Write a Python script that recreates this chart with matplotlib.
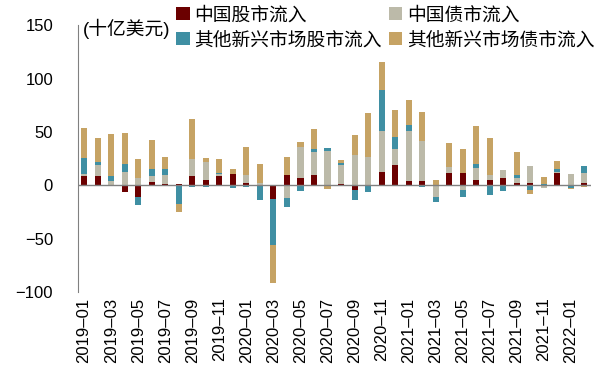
"""EM capital inflows: China vs other EM, equity and bond, monthly stacked bars."""

import matplotlib
matplotlib.use("Agg")
import matplotlib.pyplot as plt
import numpy as np

plt.rcParams["font.family"] = ["Liberation Sans", "Noto Sans CJK SC"]

months = [f"{y}–{m:02d}" for y in (2019, 2020, 2021) for m in range(1, 13)] + ["2022–01", "2022–02"]

# 十亿美元
cn_equity = [8.8, 9.1, 0.5, -6.0, -11.0, 3.1, 1.3, 1.3, 8.2, 5.0, 8.8, 10.7,
             2.2, 0.0, -12.9, 9.4, 6.3, 9.4, 0.5, 1.3, -4.7, 0.0, 12.0, 19.2,
             3.8, 4.1, -0.5, 11.0, 11.6, 4.7, 4.7, 7.2, 2.2, 1.9, 0.0, 11.0,
             0.0, 2.5]
cn_bond = [1.9, 10.0, 3.8, 12.0, 6.3, 5.3, 8.2, -1.0, 16.4, 16.7, 1.9, 0.0,
           7.2, 1.9, 0.0, -12.0, 29.6, 22.0, 32.0, 17.3, 28.0, 26.1, 39.0, 15.1,
           47.2, 37.4, -11.0, 6.3, -4.7, 11.6, 4.7, 7.5, 4.7, 16.0, -3.0, 1.3,
           10.7, 8.5]
em_equity = [14.5, 2.2, 4.7, 8.2, -7.2, 6.6, 5.7, -17.0, -1.5, -1.5, 0.6, -3.0,
             -1.5, -13.8, -42.8, -8.5, -5.3, 2.5, 2.8, 1.9, -9.4, -6.3, 38.0, 11.3,
             5.7, -1.5, -3.8, 0.0, -6.3, 3.8, -9.1, -5.0, 2.5, -4.7, 1.3, 3.1,
             -2.5, 6.9]
em_bond = [28.6, 23.0, 39.0, 29.2, 17.9, 27.0, 11.3, -7.0, 37.0, 3.5, 13.2, 4.4,
           26.4, 17.6, -35.8, 17.3, 4.7, 18.9, -3.5, 2.8, 18.6, 41.5, 26.7, 24.8,
           23.6, 26.7, 4.7, 22.3, 22.3, 35.5, 34.6, 0.0, 21.7, -3.1, 6.6, 7.2,
           -1.0, -1.5]

series = [
    ("中国股市流入", cn_equity, "#6B0000"),
    ("中国债市流入", cn_bond, "#BCBAA9"),
    ("其他新兴市场股市流入", em_equity, "#3F8FA3"),
    ("其他新兴市场债市流入", em_bond, "#C6A364"),
]

fig = plt.figure(figsize=(6.12, 3.70), dpi=100)
ax = fig.add_axes([0.1275, 0.211, 0.8385, 0.721])

x = np.arange(len(months))
pos_base = np.zeros(len(months))
neg_base = np.zeros(len(months))
handles = {}
for label, vals, color in series:
    v = np.array(vals)
    base = np.where(v >= 0, pos_base, neg_base)
    handles[label] = ax.bar(x, v, bottom=base, width=0.45, color=color, label=label, zorder=2)
    pos_base += np.where(v >= 0, v, 0)
    neg_base += np.where(v < 0, v, 0)

ax.axhline(0, color="#808080", linewidth=1.0, zorder=3)
ax.set_xlim(-0.45, len(months) - 0.5)
ax.set_ylim(-100, 150)
ax.set_yticks(range(-100, 151, 50))
ax.set_xticks(x[::2])
ax.set_xticklabels(months[::2], rotation=90)
ax.tick_params(axis="both", length=0, labelsize=12)
ax.tick_params(axis="y", pad=18)
ax.tick_params(axis="x", pad=4)
for s in ("top", "right", "bottom"):
    ax.spines[s].set_visible(False)
ax.spines["left"].set_color("#808080")

ax.text(0.01, 0.985, "(十亿美元)", transform=ax.transAxes, fontsize=13.5, va="center")

# legend fills column by column, so order it to read row by row
order = ["中国股市流入", "其他新兴市场股市流入", "中国债市流入", "其他新兴市场债市流入"]
fig.legend([handles[k] for k in order], order, loc="upper left",
           bbox_to_anchor=(0.27, 1.012), ncol=2, fontsize=13.5,
           frameon=False, handlelength=0.7, handleheight=0.7, handletextpad=0.25,
           columnspacing=0.4, labelspacing=0.4, borderaxespad=0.2)

fig.savefig("out.png", dpi=100)
